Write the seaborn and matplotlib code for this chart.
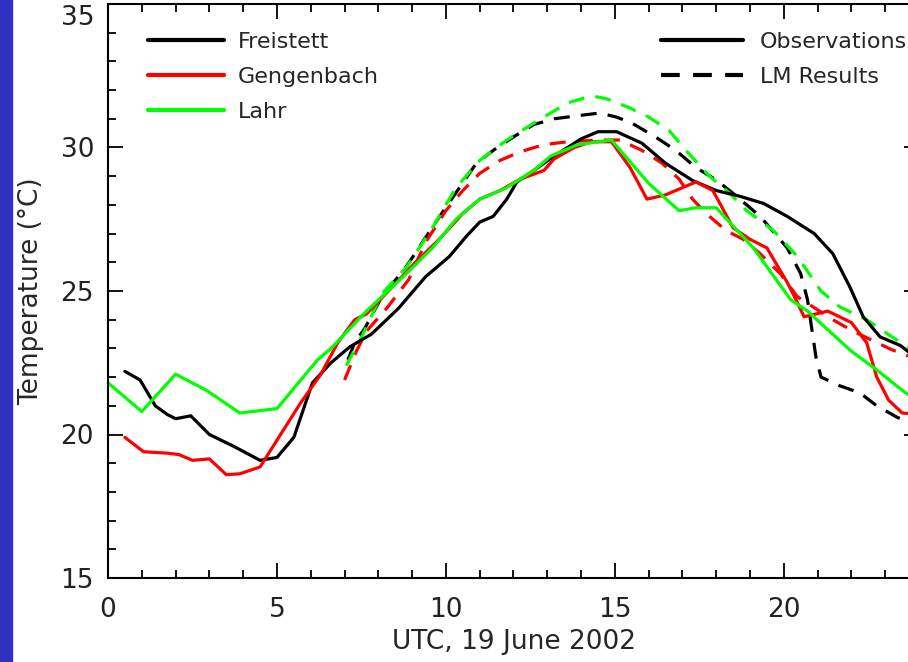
import matplotlib
matplotlib.use("Agg")
import matplotlib.pyplot as plt
import matplotlib.transforms as mtransforms
import seaborn as sns
import numpy as np
import pandas as pd
from matplotlib.lines import Line2D
from matplotlib.patches import Rectangle
from matplotlib.ticker import MultipleLocator

# ---------------- data ----------------
obs_fr_t = [0.5, 0.95, 1.4, 1.75, 2.0, 2.45, 3.0, 3.7, 4.5, 5.0, 5.5, 6.05, 6.6, 7.15, 7.8, 8.6, 9.4, 10.1, 10.6,
            11.0, 11.4, 11.8, 12.1, 12.6, 13.2, 14.0, 14.5, 15.05, 15.8, 16.5, 17.3, 18.0, 18.7, 19.4, 20.1,
            20.9, 21.45, 21.95, 22.35, 22.85, 23.45, 24.0]
obs_fr_v = [22.2, 21.9, 21.0, 20.7, 20.55, 20.65, 20.0, 19.6, 19.1, 19.2, 19.9, 21.8, 22.5, 23.05, 23.5, 24.4, 25.5, 26.2, 26.9,
            27.4, 27.6, 28.2, 28.8, 29.2, 29.7, 30.3, 30.55, 30.55, 30.15, 29.45, 28.85, 28.5, 28.3, 28.05, 27.6,
            27.0, 26.3, 25.15, 24.1, 23.4, 23.1, 22.6]

obs_ge_t = [0.5, 1.05, 1.75, 2.1, 2.5, 3.0, 3.5, 3.9, 4.5, 5.0, 5.7, 6.3, 6.8, 7.3, 7.65, 8.3, 9.1, 9.8, 10.5,
            11.0, 11.6, 12.2, 12.9, 13.2, 13.8, 14.3, 14.9, 15.45, 15.95, 16.5, 17.4, 17.9, 18.5, 19.0, 19.5,
            20.1, 20.4, 20.6, 21.3, 21.65, 22.0, 22.45, 22.75, 23.1, 23.5, 24.0]
obs_ge_v = [19.9, 19.4, 19.35, 19.3, 19.1, 19.15, 18.6, 18.63, 18.87, 19.8, 21.1, 22.1, 23.2, 24.0, 24.2, 25.0, 26.0, 26.8, 27.7,
            28.2, 28.5, 28.9, 29.2, 29.6, 30.0, 30.2, 30.2, 29.3, 28.2, 28.35, 28.8, 28.5, 27.2, 26.8, 26.5,
            25.3, 24.6, 24.1, 24.3, 24.1, 23.9, 23.2, 22.0, 21.2, 20.75, 20.7]

obs_la_t = [0.0, 1.0, 2.0, 2.9, 3.9, 5.0, 6.2, 6.6, 7.65, 8.65, 9.6, 10.3, 11.0, 11.8, 12.6, 13.1, 13.9, 14.9,
            16.0, 16.9, 17.4, 18.0, 19.1, 20.2, 20.7, 22.0, 22.75, 23.6, 24.0]
obs_la_v = [21.8, 20.8, 22.1, 21.55, 20.75, 20.9, 22.6, 23.0, 24.3, 25.4, 26.5, 27.5, 28.2, 28.6, 29.2, 29.7, 30.1, 30.26,
            28.75, 27.8, 27.9, 27.9, 26.5, 24.7, 24.3, 22.9, 22.25, 21.45, 21.2]

lm_fr_t = [7.1, 7.3, 7.6, 8.1, 8.8, 9.7, 10.4, 10.9, 11.4, 12.0, 12.6, 13.2, 14.05, 14.55, 15.05, 15.5, 16.2, 16.8,
           17.4, 18.0, 18.5, 19.3, 20.1, 20.5, 20.7, 20.85, 20.95, 21.1, 21.65, 22.25, 22.75, 23.35, 24.0]
lm_fr_v = [22.6, 23.2, 23.7, 24.8, 25.8, 27.4, 28.6, 29.45, 29.9, 30.37, 30.8, 31.0, 31.13, 31.2, 31.06, 30.85, 30.37, 29.9,
           29.3, 28.87, 28.4, 27.6, 26.5, 25.6, 24.7, 23.5, 22.7, 22.0, 21.7, 21.45, 21.0, 20.6, 20.3]

lm_ge_t = [7.0, 7.35, 7.65, 8.25, 8.9, 9.4, 10.0, 10.5, 11.0, 11.6, 12.2, 12.9, 13.6, 14.55, 15.15, 15.8, 16.4,
           16.9, 17.3, 17.7, 18.3, 18.8, 19.3, 19.9, 20.4, 21.45, 22.05, 23.2, 24.0]
lm_ge_v = [21.9, 22.9, 23.6, 24.4, 25.4, 26.7, 27.8, 28.5, 29.1, 29.55, 29.85, 30.1, 30.2, 30.26, 30.26, 29.9, 29.45,
           28.9, 28.2, 27.7, 27.1, 26.8, 26.3, 25.6, 24.8, 24.0, 23.6, 22.95, 22.6]

lm_la_t = [7.05, 7.55, 8.1, 8.85, 9.6, 10.3, 11.0, 11.8, 12.6, 13.6, 14.3, 14.75, 15.4, 16.0, 16.6, 17.1, 17.8,
           18.4, 18.9, 19.7, 20.4, 21.1, 21.65, 22.45, 23.2, 24.0]
lm_la_v = [22.4, 23.5, 24.9, 25.85, 27.2, 28.6, 29.55, 30.26, 30.85, 31.55, 31.8, 31.7, 31.4, 31.06, 30.6, 29.9, 29.0,
           28.4, 27.8, 27.1, 26.2, 25.0, 24.45, 24.0, 23.4, 22.8]

stations = ["Freistett", "Gengenbach", "Lahr"]
station_colors = ["#000000", "#ff0000", "#00ff00"]
kinds = ["Observations", "LM Results"]

x_ticks = [0, 5, 10, 15, 20]
y_ticks = [15, 20, 25, 30, 35]

# ---------------- figure ----------------
sns.set_style("ticks")
plt.rcParams["font.family"] = ["DejaVu Sans"]

W, H = 908, 662
fig = plt.figure(figsize=(W / 100, H / 100), dpi=100)
fig.patch.set_facecolor("white")

left, right, bottom, top = 108, 919, 578, 4
ax = fig.add_axes([left / W, 1 - bottom / H, (right - left) / W, (bottom - top) / H])

lw = 2.3
dash = (5, 3.5)
obs = [(obs_fr_t, obs_fr_v), (obs_ge_t, obs_ge_v), (obs_la_t, obs_la_v)]
lms = [(lm_fr_t, lm_fr_v), (lm_ge_t, lm_ge_v), (lm_la_t, lm_la_v)]

for (t, v), c in zip(lms, station_colors):
    l = sns.lineplot(x=t, y=v, ax=ax, color=c, lw=lw, sort=False, estimator=None)
    l.lines[-1].set_dashes(dash)
for (t, v), c in zip(obs, station_colors):
    sns.lineplot(x=t, y=v, ax=ax, color=c, lw=lw, sort=False, estimator=None)

ax.set_xlim(0, 24)
ax.set_ylim(15, 35)
ax.set_xticks(x_ticks)
ax.set_yticks(y_ticks)
ax.xaxis.set_minor_locator(MultipleLocator(1))
ax.yaxis.set_minor_locator(MultipleLocator(1))
ax.tick_params(which="both", direction="in", top=True, right=True, width=1.3, color="black")
ax.tick_params(which="major", length=11)
ax.tick_params(which="minor", length=6)
ax.tick_params(axis="x", which="major", labelsize=19, pad=14)
ax.tick_params(axis="y", which="major", labelsize=19, pad=10)
for s in ax.spines.values():
    s.set_linewidth(1.5)
    s.set_color("black")
    s.set_visible(True)

ax.set_xlabel("UTC, 19 June 2002", fontsize=19, labelpad=4)
ax.set_ylabel("Temperature (°C)", fontsize=19, labelpad=12)
for lab in ax.get_xticklabels() + ax.get_yticklabels():
    lab.set_color("#222222")

# the top label sits a little lower, inside the figure
ylabs = ax.get_yticklabels()
ylabs[-1].set_transform(ylabs[-1].get_transform() +
                        mtransforms.ScaledTranslation(0, -11 / 100, fig.dpi_scale_trans))

# legends
h1 = [Line2D([], [], color=c, lw=3) for c in station_colors]
leg1 = ax.legend(h1, stations, loc="upper left", bbox_to_anchor=(148 / W, 1 - 32 / H),
                 bbox_transform=fig.transFigure, frameon=False, fontsize=16,
                 handlelength=3.4, handletextpad=0.65, labelspacing=0.68, borderpad=0, borderaxespad=0)
ax.add_artist(leg1)
h2 = [Line2D([], [], color="black", lw=3),
      Line2D([], [], color="black", lw=3, dashes=(4.5, 3.2))]
ax.legend(h2, kinds, loc="upper left", bbox_to_anchor=(661 / W, 1 - 32 / H),
          bbox_transform=fig.transFigure, frameon=False, fontsize=16,
          handlelength=3.7, handletextpad=0.75, labelspacing=0.68, borderpad=0, borderaxespad=0)

# blue strip on the left
fig.add_artist(Rectangle((0, 0), 12 / W, 1, transform=fig.transFigure, color="#3030c4", zorder=10))

fig.savefig("out.png", dpi=100)
